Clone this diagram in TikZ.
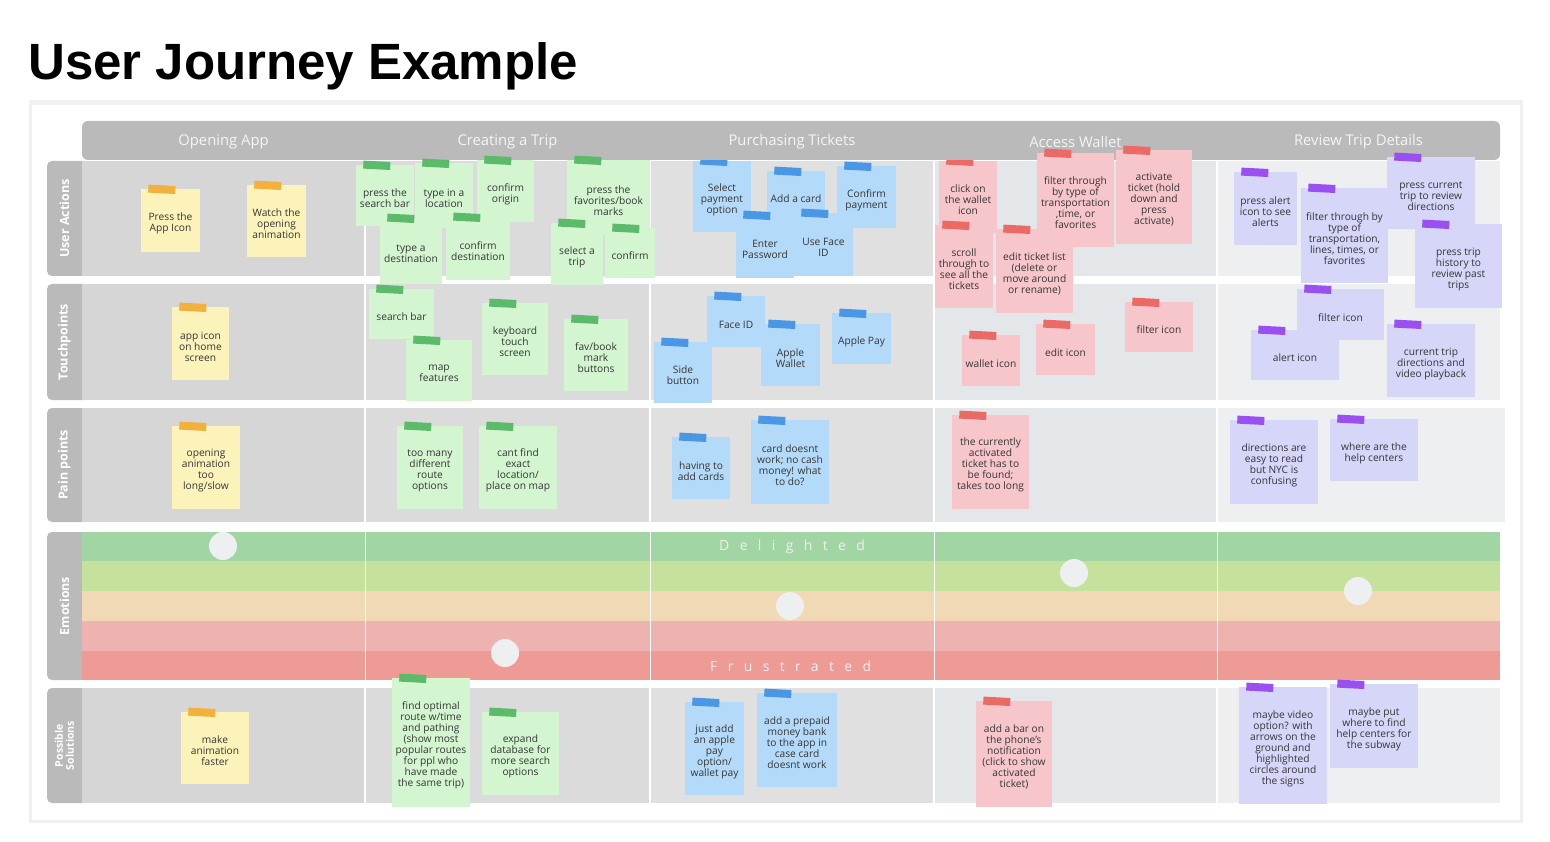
\documentclass[tikz,border=0pt]{standalone}
\usepackage{fontspec}
\setmainfont{Open Sans}
\newfontfamily\titlefont{Liberation Sans}
\newfontfamily\spacedfont[LetterSpace=74]{Open Sans}
\usetikzlibrary{calc}

% palette
\definecolor{boardedge}{HTML}{F1F1F1}
\definecolor{tabgray}{HTML}{BABABA}
\definecolor{colA}{HTML}{D6D6D6}
\definecolor{colB}{HTML}{DBDBDB}
\definecolor{colC}{HTML}{E0E0E0}
\definecolor{colD}{HTML}{E4E7EA}
\definecolor{colE}{HTML}{EEEFF1}
\definecolor{bandA}{HTML}{A1D5A3}
\definecolor{bandB}{HTML}{C5E29D}
\definecolor{bandC}{HTML}{F2D9B5}
\definecolor{bandD}{HTML}{EEB2B1}
\definecolor{bandE}{HTML}{EE9A95}
\definecolor{dotfill}{HTML}{EEEFF1}
\definecolor{ink}{HTML}{363636}
\definecolor{yelfill}{HTML}{FBF3BA}
\definecolor{yeltape}{HTML}{F2B03C}
\definecolor{grnfill}{HTML}{D3F5D0}
\definecolor{grntape}{HTML}{5CBB6A}
\definecolor{blufill}{HTML}{B3DAF8}
\definecolor{blutape}{HTML}{4A97E6}
\definecolor{pnkfill}{HTML}{F7C6CB}
\definecolor{pnktape}{HTML}{EC6A66}
\definecolor{prpfill}{HTML}{D5D6F8}
\definecolor{prptape}{HTML}{9A50F0}

\tikzset{
  notebox/.style={rectangle, inner sep=0pt, draw=none},
  tapestrip/.style={rectangle, inner sep=0pt, draw=none, minimum width=27pt, minimum height=8pt, rotate=-3},
  notetext/.style={inner sep=0pt, align=center, text=ink, font=\fontsize{10.2}{11}\selectfont},
  rowlabel/.style={inner sep=0pt, align=center, text=white, rotate=90, font=\bfseries\fontsize{12.5}{13}\selectfont},
  headlabel/.style={inner sep=0pt, text=white!96!black, font=\fontsize{14.8}{16}\selectfont},
  emoword/.style={inner sep=0pt, text=white!94!black, font=\spacedfont\fontsize{14}{16}\selectfont},
  mood/.style={circle, fill=dotfill, draw=none, minimum size=28pt, inner sep=0pt},
}

% \sticky{name}{palette}{cx}{cy}{width}{height}{text}
\newcommand\sticky[7]{%
  \node[notebox, fill=#2fill, minimum width=#5pt, minimum height=#6pt] (#1) at (#3,#4) {};
  \node[tapestrip, fill=#2tape] (#1-tape) at ([xshift=21pt,yshift=-0.5pt]#1.north west) {};
  \node[notetext] (#1-text) at ([yshift=-3pt]#1.center) {#7};
}

\begin{document}
\begin{tikzpicture}[x=1pt,y=-1pt]
\useasboundingbox (0,0) rectangle (1550,842);
\fill[white] (0,0) rectangle (1550,842);

% title
\node[anchor=base west, inner sep=0pt, font=\titlefont\bfseries\fontsize{51}{55}\selectfont] (title) at (28,80) {User Journey Example};

% board
\fill[boardedge] (29,100) rectangle (1523,823);
\fill[white] (32,105) rectangle (1520,820);

% row tabs
\foreach \ya/\yb in {161/276, 284/400, 408/522, 532/680, 688/803}{
  \fill[tabgray, rounded corners=5pt] (47,\ya) rectangle (90,\yb);
}

% lane backgrounds, one shade per stage
\foreach \ya/\yb/\xe in {161/276/1500, 284/400/1500, 408/522/1505, 688/803/1500}{
  \fill[colA] (82,\ya) rectangle (364.3,\yb);
  \fill[colB] (365.7,\ya) rectangle (649.3,\yb);
  \fill[colC] (650.7,\ya) rectangle (933.3,\yb);
  \fill[colD] (934.7,\ya) rectangle (1216.3,\yb);
  \fill[colE] (1217.7,\ya) rectangle (\xe,\yb);
}

% emotion scale
\fill[bandA] (82,532) rectangle (1500,561);
\fill[bandB] (82,561) rectangle (1500,591);
\fill[bandC] (82,591) rectangle (1500,621);
\fill[bandD] (82,621) rectangle (1500,651);
\fill[bandE] (82,651) rectangle (1500,680);
\foreach \xs in {365,650,934,1217}{
  \draw[white, line width=1pt] (\xs,532) -- (\xs,680);
}
\node[emoword, anchor=west] (delighted) at (719,547) {Delighted};
\node[emoword, anchor=west] (frustrated) at (710,666) {Frustrated};
\node[mood] (mood1) at (223,546) {};
\node[mood] (mood2) at (505,653) {};
\node[mood] (mood3) at (790,606) {};
\node[mood] (mood4) at (1074,573) {};
\node[mood] (mood5) at (1358,591) {};

% row labels
\node[rowlabel] (lab-actions) at (64.5,218.5) {User Actions};
\node[rowlabel] (lab-touch) at (64.5,342) {Touchpoints};
\node[rowlabel] (lab-pain) at (64.5,465) {Pain points};
\node[rowlabel] (lab-emo) at (64.5,606) {Emotions};
\node[rowlabel, font=\bfseries\fontsize{10.6}{11}\selectfont] (lab-sol) at (64.5,745.5) {Possible\\Solutions};

% notes tucked under the stage header
\sticky{p1}{blu}{722}{196.5}{58}{71}{Select\\payment\\option}
\sticky{a1}{pnk}{968}{197}{58}{72}{click on\\the wallet\\icon}

% stage header
\fill[tabgray, rounded corners=6pt] (82,121) rectangle (1500,160);
\node[headlabel] (st1) at (223.5,142) {Opening App};
\node[headlabel] (st2) at (507.5,142) {Creating a Trip};
\node[headlabel] (st3) at (792,142) {Purchasing Tickets};
\node[headlabel] (st4) at (1075.5,142) {Access Wallet};
\node[headlabel] (st5) at (1358.5,142) {Review Trip Details};

% ---- Opening App
\sticky{oa1}{yel}{170.5}{220.5}{59}{63}{Press the\\App Icon}
\sticky{oa2}{yel}{276.5}{221}{59}{72}{Watch the\\opening\\animation}
\sticky{ot1}{yel}{200.5}{343.5}{57}{73}{app icon\\on home\\screen}
\sticky{op1}{yel}{206}{467.5}{68}{83}{opening\\animation\\too\\long/slow}
\sticky{os1}{yel}{215}{748}{68}{72}{make\\animation\\faster}

% ---- Creating a Trip
\sticky{c1}{grn}{385}{195.5}{58}{61}{press the\\search bar}
\sticky{c2}{grn}{444}{195.5}{58}{65}{type in a\\location}
\sticky{c3}{grn}{505.5}{191}{57}{62}{confirm\\origin}
\sticky{c4}{grn}{608.5}{197.5}{83}{75}{press the\\favorites/book\\marks}
\sticky{c5}{grn}{411}{251}{62}{66}{type a\\destination}
\sticky{c6}{grn}{478}{248.5}{64}{63}{confirm\\destination}
\sticky{c7}{grn}{577}{254}{52}{62}{select a\\trip}
\sticky{c8}{grn}{630}{253}{50}{50}{confirm}
\sticky{ct1}{grn}{401.5}{314}{65}{50}{search bar}
\sticky{ct2}{grn}{439}{370.5}{66}{61}{map\\features}
\sticky{ct3}{grn}{515}{339}{66}{72}{keyboard\\touch\\screen}
\sticky{ct4}{grn}{596}{355}{64}{72}{fav/book\\mark\\buttons}
\sticky{cp1}{grn}{430}{467.5}{66}{83}{too many\\different\\route\\options}
\sticky{cp2}{grn}{518}{467.5}{78}{83}{cant find\\exact\\location/\\place on map}
\sticky{cs1}{grn}{431}{742.5}{78}{129}{find optimal\\route w/time\\and pathing\\(show most\\popular routes\\for ppl who\\have made\\the same trip)}
\sticky{cs2}{grn}{520.5}{753.5}{77}{83}{expand\\database for\\more search\\options}

% ---- Purchasing Tickets
\sticky{p2}{blu}{796}{196}{58}{50}{Add a card}
\sticky{p3}{blu}{866.5}{197}{59}{62}{Confirm\\payment}
\sticky{p4}{blu}{765}{246.5}{58}{63}{Enter\\Password}
\sticky{p5}{blu}{823.5}{244.5}{59}{63}{Use Face\\ID}
\sticky{pt2}{blu}{736}{321.5}{58}{51}{Face ID}
\sticky{pt1}{blu}{683}{372.5}{58}{61}{Side\\button}
\sticky{pt3}{blu}{790.5}{355}{59}{62}{Apple\\Wallet}
\sticky{pt4}{blu}{861.5}{338.5}{59}{51}{Apple Pay}
\sticky{pp1}{blu}{701}{468}{58}{62}{having to\\add cards}
\sticky{pp2}{blu}{790}{462}{78}{84}{card doesnt\\work; no cash\\money! what\\to do?}
\sticky{ps1}{blu}{714.5}{748.5}{59}{93}{just add\\an apple\\pay\\option/\\wallet pay}
\sticky{ps2}{blu}{797}{740}{80}{94}{add a prepaid\\money bank\\to the app in\\case card\\doesnt work}

% ---- Access Wallet
\sticky{a2}{pnk}{1075.5}{200}{77}{94}{filter through\\by type of\\transportation\\,time, or\\favorites}
\sticky{a3}{pnk}{1154}{197}{76}{94}{activate\\ticket (hold\\down and\\press\\activate)}
\sticky{a4}{pnk}{964}{266.5}{58}{83}{scroll\\through to\\see all the\\tickets}
\sticky{a5}{pnk}{1034.5}{271}{77}{84}{edit ticket list\\(delete or\\move around\\or rename)}
\sticky{at1}{pnk}{991}{360.5}{58}{51}{wallet icon}
\sticky{at2}{pnk}{1065.5}{349.5}{59}{51}{edit icon}
\sticky{at3}{pnk}{1159}{327}{68}{50}{filter icon}
\sticky{ap1}{pnk}{990.5}{462}{77}{94}{the currently\\activated\\ticket has to\\be found;\\takes too long}
\sticky{as1}{pnk}{1014}{754}{76}{106}{add a bar on\\the phone's\\notification\\(click to show\\activated\\ticket)}

% ---- Review Trip Details
\sticky{r1}{prp}{1265.5}{208.5}{63}{73}{press alert\\icon to see\\alerts}
\sticky{r2}{prp}{1344.5}{235.5}{87}{95}{filter through by\\type of\\transportation,\\lines, times, or\\favorites}
\sticky{r3}{prp}{1431}{193}{88}{72}{press current\\trip to review\\directions}
\sticky{r4}{prp}{1458.5}{266}{87}{84}{press trip\\history to\\review past\\trips}
\sticky{rt1}{prp}{1340.5}{314.5}{87}{51}{filter icon}
\sticky{rt2}{prp}{1295}{355}{88}{50}{alert icon}
\sticky{rt3}{prp}{1431}{360.5}{88}{73}{current trip\\directions and\\video playback}
\sticky{rp1}{prp}{1274}{462}{88}{84}{directions are\\easy to read\\but NYC is\\confusing}
\sticky{rp2}{prp}{1374}{450}{88}{62}{where are the\\help centers}
\sticky{rs1}{prp}{1283}{745.5}{88}{117}{maybe video\\option? with\\arrows on the\\ground and\\highlighted\\circles around\\the signs}
\sticky{rs2}{prp}{1374}{726}{88}{84}{maybe put\\where to find\\help centers for\\the subway}

\end{tikzpicture}
\end{document}
